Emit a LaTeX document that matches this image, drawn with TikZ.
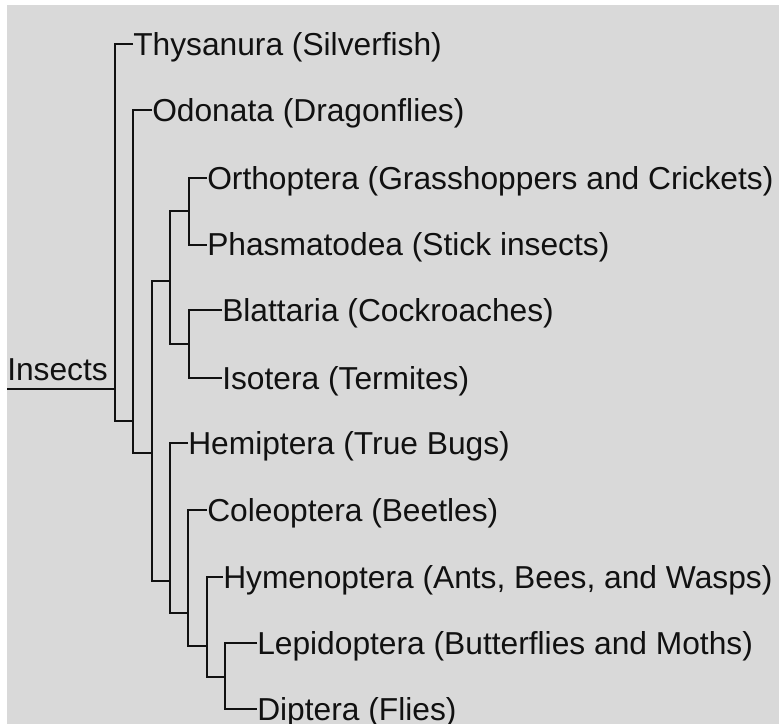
\documentclass[tikz,border=0pt]{standalone}
\usepackage{fontspec}
\setmainfont{Liberation Sans}
\definecolor{bggray}{HTML}{D9D9D9}
\definecolor{ink}{HTML}{111111}
\begin{document}
\begin{tikzpicture}[x=0.75pt,y=-0.75pt,
  ln/.style={draw=ink,line width=1.5pt},
  leaf/.style={anchor=base west,inner sep=0pt,text=ink,font=\fontsize{23.8pt}{28pt}\selectfont,yshift=-8.5pt}]
\useasboundingbox (0,0) rectangle (779,724);
\fill[white] (0,0) rectangle (779,724);
\fill[bggray] (7,5) rectangle (779,724);
% stub ends
\coordinate (thyS) at (133,44);
\coordinate (odoS) at (152,110);
\coordinate (ortS) at (207,178);
\coordinate (phaS) at (207,244.5);
\coordinate (blaS) at (222,310);
\coordinate (isoS) at (222,378);
\coordinate (hemS) at (188,443);
\coordinate (colS) at (207,510);
\coordinate (hymS) at (223,577);
\coordinate (lepS) at (257,643);
\coordinate (dipS) at (257,709);
% junctions
\coordinate (root) at (7,389);
\coordinate (nA) at (115,389);
\coordinate (nB) at (133,421);
\coordinate (nC) at (152,453);
\coordinate (nD) at (170,281);
\coordinate (nE) at (189,211);
\coordinate (nF) at (189,344);
\coordinate (nG) at (170,581);
\coordinate (nH) at (188,613);
\coordinate (nI) at (207,646);
\coordinate (nJ) at (225,677);
% labels
\node[leaf] (thy) at (thyS) {Thysanura (Silverfish)};
\node[leaf] (odo) at (odoS) {Odonata (Dragonflies)};
\node[leaf] (ort) at (ortS) {Orthoptera (Grasshoppers and Crickets)};
\node[leaf] (pha) at (phaS) {Phasmatodea (Stick insects)};
\node[leaf] (bla) at (blaS) {Blattaria (Cockroaches)};
\node[leaf] (iso) at (isoS) {Isotera (Termites)};
\node[leaf] (hem) at (hemS) {Hemiptera (True Bugs)};
\node[leaf] (col) at (colS) {Coleoptera (Beetles)};
\node[leaf] (hym) at (hymS) {Hymenoptera (Ants, Bees, and Wasps)};
\node[leaf] (lep) at (lepS) {Lepidoptera (Butterflies and Moths)};
\node[leaf] (dip) at (dipS) {Diptera (Flies)};
\node[anchor=base west,inner sep=0pt,text=ink,font=\fontsize{23.8pt}{28pt}\selectfont] (ins) at (7,380) {Insects};
% connectors
\draw[ln] (root) -- (nA);
\draw[ln] (thyS) -| (nA) |- (nB);
\draw[ln] (odoS) -| (nB) |- (nC);
\draw[ln] (nD) -| (nC) |- (nG);
\draw[ln] (nE) -| (nD) |- (nF);
\draw[ln] (ortS) -| (nE) |- (phaS);
\draw[ln] (blaS) -| (nF) |- (isoS);
\draw[ln] (hemS) -| (nG) |- (nH);
\draw[ln] (colS) -| (nH) |- (nI);
\draw[ln] (hymS) -| (nI) |- (nJ);
\draw[ln] (lepS) -| (nJ) |- (dipS);
\end{tikzpicture}
\end{document}
